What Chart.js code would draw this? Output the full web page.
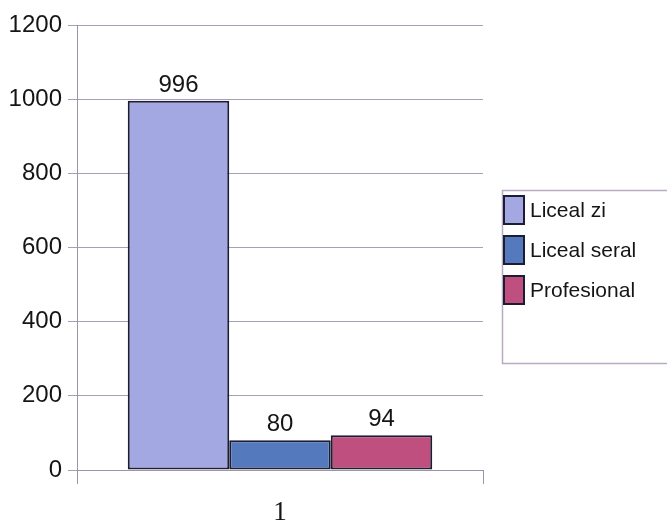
<!DOCTYPE html>
<html>
<head>
<meta charset="utf-8">
<script src="https://cdn.jsdelivr.net/npm/chart.js@4"></script>
<style>
html,body{margin:0;padding:0;background:#fff;}
#wrap{width:667px;height:523px;position:relative;}
</style>
</head>
<body>
<div id="wrap"><canvas id="c" width="667" height="523"></canvas></div>
<script>
const categories = ["1"];
const seriesNames = ["Liceal zi", "Liceal seral", "Profesional"];
const licealZi = [996];
const licealSeral = [80];
const profesional = [94];
const yTicks = [0, 200, 400, 600, 800, 1000, 1200];
const seriesColors = ["#a3a7e2", "#5579bd", "#be4f7e"];

const SANS = "'Liberation Sans', Arial, sans-serif";

const valueLabels = {
  id: 'valueLabels',
  afterDatasetsDraw(chart) {
    const ctx = chart.ctx;
    ctx.save();
    ctx.font = "24px " + SANS;
    ctx.fillStyle = "#151515";
    ctx.textAlign = "center";
    ctx.textBaseline = "alphabetic";
    chart.data.datasets.forEach((ds, i) => {
      const meta = chart.getDatasetMeta(i);
      meta.data.forEach((bar, j) => {
        ctx.fillText(String(ds.data[j]), bar.x, bar.y - 9);
      });
    });
    ctx.restore();
  }
};

const boxLegend = {
  id: 'boxLegend',
  afterDraw(chart) {
    const ctx = chart.ctx;
    ctx.save();
    ctx.strokeStyle = "#b8aac4";
    ctx.lineWidth = 1.5;
    ctx.strokeRect(502.5, 190.5, 200, 173);
    ctx.font = "21px " + SANS;
    ctx.textBaseline = "middle";
    ctx.textAlign = "left";
    chart.data.datasets.forEach((ds, i) => {
      const cy = 210 + i * 40;
      ctx.fillStyle = ds.backgroundColor;
      ctx.fillRect(504, cy - 14, 20, 28);
      ctx.strokeStyle = "#1c1c33";
      ctx.lineWidth = 2;
      ctx.strokeRect(504, cy - 14, 20, 28);
      ctx.fillStyle = "#151515";
      ctx.fillText(ds.label, 530, cy + 1);
    });
    ctx.restore();
  }
};

const seriesData = [licealZi, licealSeral, profesional];

new Chart(document.getElementById('c'), {
  type: 'bar',
  data: {
    labels: categories,
    datasets: seriesNames.map((name, i) => ({
      label: name,
      data: seriesData[i],
      backgroundColor: seriesColors[i],
      borderColor: "#1c1c33",
      borderWidth: 2,
      borderSkipped: false,
      categoryPercentage: 0.75,
      barPercentage: 1.0
    }))
  },
  options: {
    responsive: false,
    animation: false,
    devicePixelRatio: 1,
    layout: { padding: { top: 25, right: 184, left: 0, bottom: 0 } },
    plugins: { legend: { display: false }, tooltip: { enabled: false } },
    scales: {
      x: {
        grid: { display: true, drawOnChartArea: false, offset: true, color: "#9d94a8", tickLength: 14 },
        border: { display: true, color: "#9d94a8", width: 1 },
        ticks: { color: "#151515", font: { family: "'Liberation Serif', serif", size: 27 }, padding: 13 },
        afterFit(scale) { scale.height = 53; }
      },
      y: {
        min: 0, max: 1200,
        afterBuildTicks(scale) { scale.ticks = yTicks.map(v => ({ value: v })); },
        grid: { color: "#a89fb4", lineWidth: 1, tickLength: 9 },
        border: { display: true, color: "#9d94a8", width: 1 },
        ticks: { color: "#151515", font: { family: SANS, size: 24 }, padding: 6,
                 callback: (v) => String(v) },
        afterFit(scale) { scale.width = 77; }
      }
    }
  },
  plugins: [valueLabels, boxLegend]
});
</script>
</body>
</html>
